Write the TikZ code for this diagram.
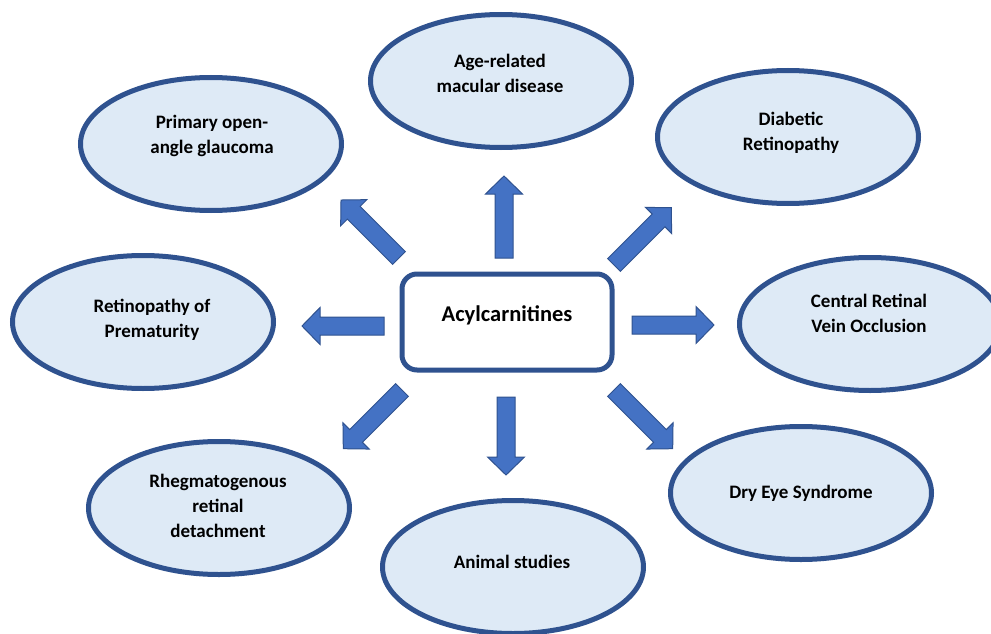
\documentclass[tikz,border=0pt]{standalone}
\usepackage{fontspec}
\setmainfont{Carlito}
\usetikzlibrary{shapes.geometric}
\definecolor{ringblue}{HTML}{2F528F}
\definecolor{ellfill}{HTML}{DEEAF6}
\definecolor{arrowblue}{HTML}{4472C4}
\tikzset{
  disease/.style={ellipse,draw=ringblue,line width=5pt,fill=ellfill,
    minimum width=261pt,minimum height=133pt,inner sep=0pt},
  lbl/.style={align=center,font=\bfseries\fontsize{19}{25}\selectfont},
  blockarrow/.style={fill=arrowblue,draw=ringblue,line width=1pt}
}
\begin{document}
\begin{tikzpicture}[x=1pt,y=-1pt]
\useasboundingbox (0,0) rectangle (991,634);
% outer diseases
\node[disease] (amd) at (501,81) {};
\node[lbl] (amd-t) at (500,73) {Age-related\\macular disease};
\node[disease] (poag) at (211,144) {};
\node[lbl] (poag-t) at (212,136) {Primary open-\\angle glaucoma};
\node[disease] (dr) at (788,137) {};
\node[lbl] (dr-t) at (791,133) {Diabetic\\Retinopathy};
\node[disease] (rop) at (143,322) {};
\node[lbl] (rop-t) at (152,320) {Retinopathy of\\Prematurity};
\node[disease] (crvo) at (870,324) {};
\node[lbl] (crvo-t) at (869,313) {Central Retinal\\Vein Occlusion};
\node[disease] (dry) at (801,493) {};
\node[lbl] (dry-t) at (801,493) {Dry Eye Syndrome};
\node[disease] (anim) at (513,567) {};
\node[lbl] (anim-t) at (512,562) {Animal studies};
\node[disease] (rrd) at (219,508) {};
\node[lbl] (rrd-t) at (218,506) {Rhegmatogenous\\retinal\\detachment};
% centre box
\node[draw=ringblue,line width=5pt,fill=white,rounded corners=15pt,
  minimum width=210pt,minimum height=96pt] (acyl) at (507,322) {};
\node[font=\bfseries\fontsize{22.5}{27}\selectfont] (acyl-t) at (507,315) {Acylcarnitines};
% block arrows: tail x/y, angle, length
\foreach \x/\y/\ang/\len in {504/258/90/82, 506/397/270/78,
    384/326/180/82, 632/325/0/82, 399/258/135/82,
    614/265/45/81, 402/390/225/83, 614/390/315/83}
  \draw[blockarrow,shift={(\x,\y)},rotate=\ang]
    (0,-9) -- (\len-18,-9) -- (\len-18,-18.5) -- (\len,0)
    -- (\len-18,18.5) -- (\len-18,9) -- (0,9) -- cycle;
\end{tikzpicture}
\end{document}
